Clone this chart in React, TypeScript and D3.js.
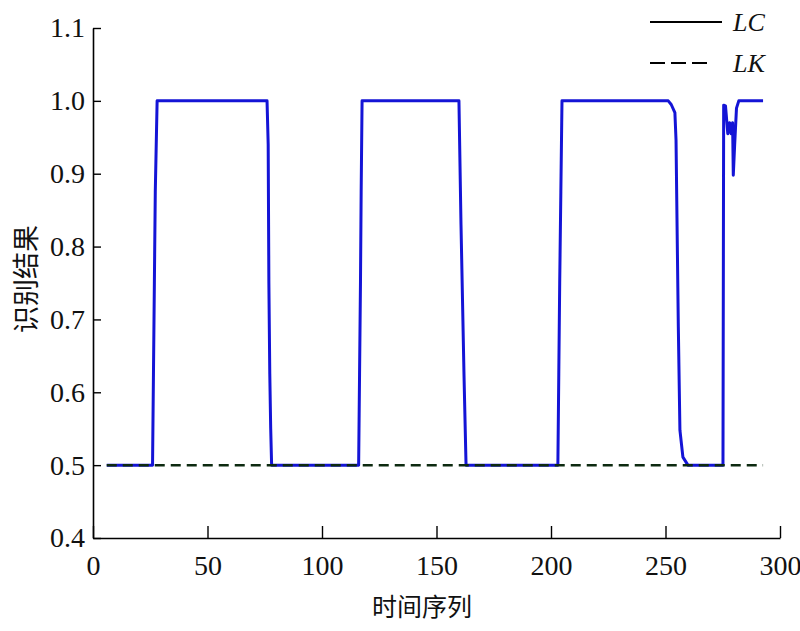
import React, { useRef, useEffect } from 'react';
import * as d3 from 'd3';

// LC series (blue line): time step and recognition result
const lcTime = [6, 26, 26.4, 26.8, 27.2, 28, 76, 76.5, 76.8, 77.2, 77.6, 78,
  116, 116.4, 116.8, 117.1, 117.5, 159.8, 160.7, 162.0, 162.9,
  203, 203.4, 203.8, 204.3, 204.8, 251.2, 252.5, 254.1, 254.6, 254.9, 255.6, 256.3, 257.6, 259.8,
  275.1, 275.4, 276.2, 277.2, 278.0, 278.6, 279.3, 279.6, 280.2, 281.0, 282.0, 292.6];
const lcValue = [0.5, 0.5, 0.625, 0.75, 0.875, 1.0, 1.0, 0.94, 0.75, 0.625, 0.55, 0.5,
  0.5, 0.625, 0.75, 0.875, 1.0, 1.0, 0.83, 0.625, 0.5,
  0.5, 0.625, 0.75, 0.875, 1.0, 1.0, 0.995, 0.984, 0.946, 0.868, 0.69, 0.548, 0.511, 0.5,
  0.5, 0.994, 0.993, 0.955, 0.97, 0.955, 0.97, 0.898, 0.94, 0.99, 1.0, 1.0];

// LK series (dashed line)
const lkTime = [6, 292.6];
const lkValue = [0.5, 0.5];

const xTicks = [0, 50, 100, 150, 200, 250, 300];
const yTicks = [0.4, 0.5, 0.6, 0.7, 0.8, 0.9, 1.0, 1.1];
const legendNames = ['LC', 'LK'];

const width = 800;
const height = 631;

const Chart = () => {
  const ref = useRef(null);

  useEffect(() => {
    document.body.style.margin = '0';
    document.body.style.overflow = 'hidden';

    const svg = d3.select(ref.current)
      .attr('width', width)
      .attr('height', height)
      .style('background', '#fff');

    svg.selectAll('*').remove();

    const x = d3.scaleLinear().domain([0, 300]).range([93, 780]);
    const y = d3.scaleLinear().domain([0.4, 1.1]).range([538, 28]);

    const serif = 'Liberation Serif';
    const cjk = 'Noto Sans CJK SC';

    // axes
    const xAxis = svg.append('g')
      .attr('transform', `translate(0, ${y(0.4)})`)
      .call(d3.axisBottom(x).tickValues(xTicks).tickSizeInner(-12).tickSizeOuter(0).tickPadding(17));
    const yAxis = svg.append('g')
      .attr('transform', `translate(${x(0)}, 0)`)
      .call(d3.axisLeft(y).tickValues(yTicks).tickFormat(d3.format('.1f')).tickSizeInner(-8).tickSizeOuter(0).tickPadding(8));

    [xAxis, yAxis].forEach(g => {
      g.attr('font-family', serif).attr('font-size', 28);
      g.select('.domain').attr('stroke', '#000').attr('stroke-width', 1.6);
      g.selectAll('.tick line').attr('stroke', '#000').attr('stroke-width', 1.4);
      g.selectAll('.tick text')
        .attr('fill', '#111')
        .attr('font-family', serif)
        .attr('font-size', 28);
    });

    // LC line
    const lcPoints = lcTime.map((t, i) => [t, lcValue[i]]);
    const line = d3.line().x(d => x(d[0])).y(d => y(d[1]));
    svg.append('path')
      .datum(lcPoints)
      .attr('fill', 'none')
      .attr('stroke', '#1414d6')
      .attr('stroke-width', 3)
      .attr('stroke-linejoin', 'round')
      .attr('d', line);

    // LK line
    const lkPoints = lkTime.map((t, i) => [t, lkValue[i]]);
    svg.append('path')
      .datum(lkPoints)
      .attr('fill', 'none')
      .attr('stroke', '#0d2a10')
      .attr('stroke-width', 2.5)
      .attr('stroke-dasharray', '10,6')
      .attr('d', line);

    // axis titles
    svg.append('text')
      .attr('x', 422)
      .attr('y', 616)
      .attr('text-anchor', 'middle')
      .attr('font-family', cjk)
      .attr('font-size', 25)
      .attr('fill', '#111')
      .text('时间序列');

    svg.append('text')
      .attr('transform', 'translate(36, 279) rotate(-90)')
      .attr('text-anchor', 'middle')
      .attr('font-family', cjk)
      .attr('font-size', 27)
      .attr('fill', '#111')
      .text('识别结果');

    // legend
    const legend = svg.append('g');
    legendNames.forEach((name, i) => {
      const ly = 22 + i * 41;
      legend.append('line')
        .attr('x1', 650).attr('x2', i === 0 ? 722 : 711)
        .attr('y1', ly).attr('y2', ly)
        .attr('stroke', '#000')
        .attr('stroke-width', 1.8)
        .attr('stroke-dasharray', i === 0 ? null : '15,6');
      legend.append('text')
        .attr('x', 733)
        .attr('y', ly + 9)
        .attr('font-family', serif)
        .attr('font-style', 'italic')
        .attr('font-size', 26)
        .attr('fill', '#111')
        .text(name);
    });
  }, []);

  return (
    <svg ref={ref} style={{ display: 'block' }}></svg>
  );
};

export default function App() {
  return (
    <div>
      <Chart />
    </div>
  );
}
